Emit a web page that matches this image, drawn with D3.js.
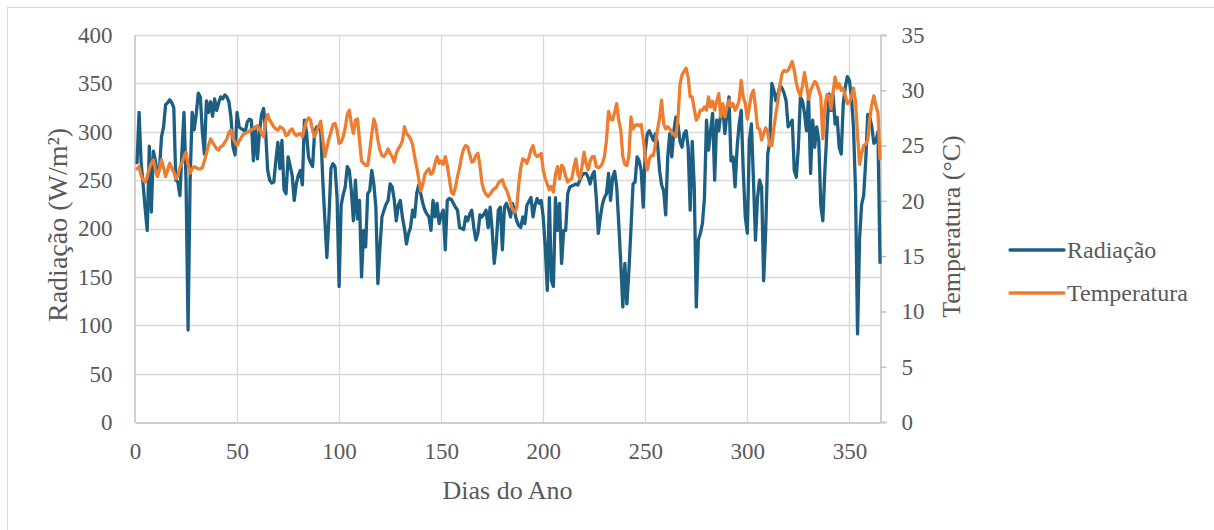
<!DOCTYPE html>
<html>
<head>
<meta charset="utf-8">
<script src="https://cdn.jsdelivr.net/npm/d3@7"></script>
<style>
  html, body { margin: 0; padding: 0; background: #fff; }
  svg { display: block; font-family: "Liberation Serif", "Times New Roman", serif; }
</style>
</head>
<body>
<svg id="chart" width="1214" height="530"></svg>
<script>
// Daily solar radiation (W/m²), days 1..365
const radiacao = [
  268, 320, 268, 245, 220, 198, 285, 217, 280, 270,
  255, 262, 295, 305, 328, 330, 333, 330, 325, 250,
  248, 234, 280, 320, 250, 95, 250, 320, 302, 318,
  340, 336, 300, 277, 332, 320, 331, 316, 334, 322,
  330, 336, 334, 338, 336, 331, 315, 285, 276, 320,
  305, 303, 302, 300, 310, 313, 312, 270, 305, 272,
  300, 318, 324, 300, 260, 250, 247, 248, 270, 289,
  262, 291, 240, 236, 274, 265, 255, 229, 246, 255,
  260, 245, 312, 300, 274, 268, 264, 300, 305, 305,
  301, 250, 210, 170, 210, 262, 267, 264, 232, 140,
  224, 235, 243, 264, 260, 239, 208, 250, 210, 229,
  150, 198, 181, 236, 239, 260, 246, 222, 143, 180,
  212, 219, 225, 229, 246, 243, 230, 208, 224, 229,
  212, 200, 184, 195, 201, 219, 212, 236, 245, 236,
  226, 219, 215, 212, 198, 229, 212, 226, 205, 214,
  219, 178, 229, 231, 230, 226, 222, 219, 201, 200,
  199, 212, 208, 215, 219, 201, 188, 195, 214, 212,
  215, 219, 201, 222, 198, 164, 184, 219, 222, 178,
  222, 226, 220, 212, 226, 217, 208, 203, 201, 212,
  205, 224, 228, 232, 212, 224, 231, 226, 229, 212,
  180, 136, 232, 146, 140, 232, 198, 226, 164, 198,
  198, 236, 243, 244, 245, 246, 245, 250, 255, 257,
  257, 253, 246, 255, 259, 232, 195, 212, 225, 232,
  236, 257, 229, 253, 259, 243, 205, 164, 119, 164,
  122, 157, 200, 246, 248, 274, 270, 260, 222, 280,
  298, 301, 296, 291, 298, 288, 260, 245, 239, 214,
  274, 298, 274, 301, 315, 308, 290, 284, 298, 301,
  284, 219, 290, 243, 119, 188, 195, 205, 232, 312,
  281, 301, 319, 250, 312, 301, 319, 325, 298, 319,
  336, 270, 274, 243, 284, 308, 322, 260, 212, 195,
  291, 308, 250, 188, 232, 250, 243, 146, 198, 277,
  290, 350, 343, 332, 339, 348, 345, 340, 332, 305,
  308, 312, 260, 253, 284, 336, 332, 319, 301, 336,
  257, 312, 284, 305, 291, 224, 208, 260, 301, 339,
  322, 339, 308, 315, 284, 277, 329, 346, 357, 353,
  336, 305, 240, 91, 190, 225, 234, 270, 318, 315,
  305, 288, 290, 300, 165
];

// Daily mean air temperature (°C), days 1..365
const temperatura = [
  22.9, 23.1, 22.3, 21.9, 21.7, 22.2, 22.9, 23.4, 23.7, 22.8,
  22.2, 22.9, 23.7, 23.0, 22.2, 22.8, 23.4, 23.0, 22.6, 22.0,
  22.3, 23.0, 23.4, 24.0, 24.4, 23.3, 22.5, 22.9, 23.1, 23.0,
  22.9, 22.9, 23.0, 23.6, 24.3, 25.0, 25.6, 25.3, 25.0, 24.7,
  24.6, 24.9, 25.0, 25.3, 25.6, 26.2, 26.4, 25.7, 25.3, 25.0,
  25.4, 25.7, 26.0, 26.1, 26.2, 26.3, 26.4, 26.5, 26.6, 26.8,
  26.5, 26.1, 25.8, 27.2, 27.8, 27.3, 27.0, 26.7, 26.5, 26.4,
  26.7, 26.6, 26.4, 25.9, 26.0, 26.4, 26.5, 26.1, 25.9, 26.0,
  26.1, 25.8, 26.5, 27.2, 27.5, 27.3, 26.4, 25.8, 26.3, 26.8,
  27.2, 25.6, 24.0, 24.8, 25.6, 26.2, 26.9, 27.0, 26.4, 25.2,
  25.3, 25.8, 26.6, 27.8, 28.2, 27.0, 26.1, 27.3, 27.4, 25.5,
  23.6, 23.4, 23.2, 23.2, 24.5, 26.0, 27.4, 26.8, 25.5, 24.6,
  24.1, 24.0, 24.3, 24.7, 24.3, 24.0, 23.5, 24.3, 24.7, 25.0,
  25.4, 26.7, 26.1, 25.9, 25.6, 25.1, 24.0, 23.1, 22.0, 20.9,
  21.5, 22.4, 22.7, 22.9, 22.4, 22.6, 23.4, 24.0, 23.4, 23.6,
  23.3, 24.0, 23.2, 22.0, 20.8, 20.6, 21.2, 22.2, 23.0, 24.0,
  24.7, 25.0, 24.9, 24.2, 23.5, 23.6, 24.1, 24.3, 23.2, 21.6,
  20.9, 20.6, 20.4, 20.6, 20.9, 21.1, 21.2, 21.6, 21.8, 21.9,
  21.3, 21.0, 20.5, 19.8, 19.2, 19.0, 19.3, 21.5, 23.0, 23.8,
  23.7, 23.4, 23.9, 24.6, 25.0, 24.2, 24.0, 24.1, 24.3, 22.8,
  22.0, 21.5, 21.0, 21.3, 20.8, 22.4, 23.1, 22.0, 23.2, 23.0,
  22.2, 21.7, 21.9, 22.0, 23.0, 23.8, 22.4, 22.0, 23.1, 24.4,
  23.4, 22.8, 23.6, 24.0, 24.0, 23.1, 23.0, 23.1, 23.4, 24.0,
  25.5, 28.1, 27.4, 27.3, 28.0, 28.8, 27.3, 26.4, 24.0, 23.3,
  23.2, 24.1, 27.6, 26.5, 26.8, 26.9, 26.8, 26.9, 25.6, 24.0,
  22.8, 23.8, 24.1, 24.1, 25.2, 26.4, 27.5, 29.1, 27.0, 26.5,
  26.7, 26.5, 26.2, 26.0, 25.8, 27.4, 30.5, 31.4, 31.7, 32.0,
  31.2, 29.4, 29.4, 28.3, 27.3, 27.6, 28.2, 28.2, 28.5, 28.2,
  29.4, 28.5, 29.0, 28.2, 29.0, 29.7, 27.6, 28.8, 27.6, 28.5,
  29.1, 28.5, 28.8, 28.2, 28.5, 29.1, 30.9, 29.4, 28.8, 27.4,
  28.5, 29.6, 30.0, 28.5, 26.6, 26.5, 25.5, 26.1, 26.6, 26.2,
  25.0, 25.0, 26.6, 27.9, 29.0, 30.5, 31.5, 31.8, 31.7, 31.8,
  32.2, 32.6, 31.8, 30.7, 29.9, 29.5, 30.4, 31.6, 30.5, 29.2,
  30.0, 30.4, 30.8, 30.6, 30.0, 29.4, 25.6, 28.5, 29.6, 29.5,
  28.3, 29.8, 31.2, 30.2, 30.6, 30.0, 30.2, 29.5, 28.8, 28.9,
  29.4, 30.2, 29.0, 26.0, 23.3, 24.3, 25.0, 25.1, 25.5, 27.5,
  28.7, 29.5, 28.6, 28.0, 23.8
];

const dias = radiacao.map((_, i) => i + 1);

const xTicks = [0, 50, 100, 150, 200, 250, 300, 350];
const radTicks = [0, 50, 100, 150, 200, 250, 300, 350, 400];
const tempTicks = [0, 5, 10, 15, 20, 25, 30, 35];

const series = [
  { name: "Radiação", values: radiacao, color: "#1d5f83", axis: "left" },
  { name: "Temperatura", values: temperatura, color: "#ed7d31", axis: "right" }
];

const svg = d3.select("#chart");
const W = 1214, H = 530;
const plot = { left: 135, right: 880, top: 35, bottom: 422 };
const textColor = "#595959";
const gridColor = "#d9d9d9";
const axisColor = "#bfbfbf";
const tickFont = 23;
const titleFont = 26;
const leftTitleFont = 28;
const legendFont = 24;
const serif = '"Liberation Serif", "Times New Roman", serif';

// outer chart frame (only top and left edges fall inside the view)
svg.append("rect")
  .attr("x", 7.5).attr("y", 7.5)
  .attr("width", W + 20).attr("height", H + 20)
  .attr("fill", "#fff")
  .attr("stroke", "#d9d9d9").attr("stroke-width", 1);

const x = d3.scaleLinear().domain([0, 365]).range([plot.left, plot.right]);
const yL = d3.scaleLinear().domain([0, 400]).range([plot.bottom, plot.top]);
const yR = d3.scaleLinear().domain([0, 35]).range([plot.bottom, plot.top]);

// horizontal gridlines (left axis)
svg.append("g")
  .selectAll("line")
  .data(radTicks.filter(t => t > 0))
  .join("line")
  .attr("x1", plot.left).attr("x2", plot.right)
  .attr("y1", d => Math.round(yL(d)) + 0.5).attr("y2", d => Math.round(yL(d)) + 0.5)
  .attr("stroke", gridColor).attr("stroke-width", 1.3);

// vertical gridlines
svg.append("g")
  .selectAll("line")
  .data(xTicks.filter(t => t > 0))
  .join("line")
  .attr("x1", d => Math.round(x(d)) + 0.5).attr("x2", d => Math.round(x(d)) + 0.5)
  .attr("y1", plot.top).attr("y2", plot.bottom)
  .attr("stroke", gridColor).attr("stroke-width", 1.3);

// axes
const xAxis = svg.append("g")
  .attr("transform", `translate(0,${plot.bottom + 0.5})`)
  .call(d3.axisBottom(x).tickValues(xTicks).tickSize(0).tickPadding(20));
const leftAxis = svg.append("g")
  .attr("transform", `translate(${plot.left - 0.5},0)`)
  .call(d3.axisLeft(yL).tickValues(radTicks).tickSize(0).tickPadding(22));
const rightAxis = svg.append("g")
  .attr("transform", `translate(${plot.right + 0.5},0)`)
  .call(d3.axisRight(yR).tickValues(tempTicks).tickSize(6).tickPadding(15));

[xAxis, leftAxis, rightAxis].forEach(g => {
  g.select(".domain").attr("stroke", axisColor).attr("stroke-width", 1.5);
  g.selectAll(".tick line").attr("stroke", axisColor).attr("stroke-width", 1.5);
  g.selectAll(".tick text")
    .attr("fill", textColor)
    .style("font-family", serif)
    .style("font-size", tickFont + "px");
});

// series lines
svg.append("clipPath").attr("id", "plotClip")
  .append("rect")
  .attr("x", plot.left - 4).attr("y", plot.top - 4)
  .attr("width", plot.right - plot.left + 8).attr("height", plot.bottom - plot.top + 8);

series.forEach(s => {
  const yS = s.axis === "left" ? yL : yR;
  const line = d3.line()
    .x((d, i) => x(dias[i]))
    .y(d => yS(d));
  svg.append("path")
    .datum(s.values)
    .attr("clip-path", "url(#plotClip)")
    .attr("fill", "none")
    .attr("stroke", s.color)
    .attr("stroke-width", 3.3)
    .attr("stroke-linejoin", "round")
    .attr("stroke-linecap", "round")
    .attr("d", line);
});

// axis titles
svg.append("text")
  .attr("transform", `translate(57,${plot.bottom - 100}) rotate(-90)`)
  .attr("text-anchor", "start").attr("dominant-baseline", "central")
  .attr("fill", textColor).style("font-size", leftTitleFont + "px")
  .text("Radiação (W/m²)");

svg.append("text")
  .attr("transform", `translate(951,${(plot.top + plot.bottom) / 2 - 2}) rotate(-90)`)
  .attr("text-anchor", "middle").attr("dominant-baseline", "central")
  .attr("fill", textColor).style("font-size", titleFont + "px")
  .text("Temperatura (°C)");

svg.append("text")
  .attr("x", (plot.left + plot.right) / 2).attr("y", 499)
  .attr("text-anchor", "middle")
  .attr("fill", textColor).style("font-size", titleFont + "px")
  .text("Dias do Ano");

// legend
const legend = svg.append("g");
series.forEach((s, i) => {
  const ly = 250 + i * 43;
  legend.append("line")
    .attr("x1", 1010).attr("x2", 1064)
    .attr("y1", ly).attr("y2", ly)
    .attr("stroke", s.color).attr("stroke-width", 3.3)
    .attr("stroke-linecap", "round");
  legend.append("text")
    .attr("x", 1067).attr("y", ly)
    .attr("dominant-baseline", "central")
    .attr("fill", textColor).style("font-size", legendFont + "px")
    .text(s.name);
});
</script>
</body>
</html>
